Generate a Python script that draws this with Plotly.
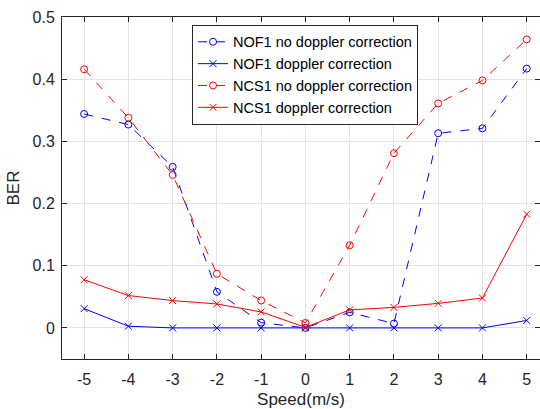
import plotly.graph_objects as go

speed = [-5, -4, -3, -2, -1, 0, 1, 2, 3, 4, 5]
nof1_no_corr = [0.344, 0.327, 0.259, 0.058, 0.0085, 0.0, 0.025, 0.007, 0.313, 0.321, 0.417]
nof1_corr = [0.031, 0.0027, 0.0, 0.0, 0.0, 0.0, 0.0, 0.0, 0.0, 0.0, 0.012]
ncs1_no_corr = [0.416, 0.338, 0.246, 0.087, 0.044, 0.008, 0.133, 0.281, 0.361, 0.398, 0.464]
ncs1_corr = [0.0775, 0.052, 0.044, 0.0385, 0.0257, 0.001, 0.029, 0.033, 0.0395, 0.048, 0.183]

x_ticks = [-5, -4, -3, -2, -1, 0, 1, 2, 3, 4, 5]
x_tick_labels = ["-5", "-4", "-3", "-2", "-1", "0", "1", "2", "3", "4", "5"]
y_ticks = [0, 0.1, 0.2, 0.3, 0.4, 0.5]
y_tick_labels = ["0", "0.1", "0.2", "0.3", "0.4", "0.5"]

BLUE = "#0000ff"
RED = "#ff0000"

fig = go.Figure()
series = [
    ("NOF1 no doppler correction", nof1_no_corr, BLUE, "dash", "circle-open"),
    ("NOF1 doppler correction", nof1_corr, BLUE, "solid", "x-thin-open"),
    ("NCS1 no doppler correction", ncs1_no_corr, RED, "dash", "circle-open"),
    ("NCS1 doppler correction", ncs1_corr, RED, "solid", "x-thin-open"),
]
for name, vals, col, dash, sym in series:
    fig.add_trace(go.Scatter(
        x=speed, y=vals, name=name, mode="lines+markers",
        line=dict(color=col, width=1, dash=dash),
        marker=dict(symbol=sym, size=7, color=col, line=dict(color=col, width=1)),
    ))

axis_common = dict(
    showgrid=True, gridcolor="#e3e3e3", gridwidth=1,
    showline=True, linecolor="#262626", linewidth=1, mirror="ticks",
    ticks="inside", ticklen=5, tickcolor="#262626",
    zeroline=False,
    tickfont=dict(family="Liberation Sans, Arial, sans-serif", size=16, color="#262626"),
)

fig.update_layout(
    width=540, height=409,
    margin=dict(l=62, r=0, t=17, b=50),
    paper_bgcolor="white", plot_bgcolor="white",
    font=dict(family="Liberation Sans, Arial, sans-serif", color="#262626"),
    xaxis=dict(
        range=[-5.5, 5.3], tickvals=x_ticks, ticktext=x_tick_labels,
        ticklabelstandoff=6,
        title=dict(text="Speed(m/s)", font=dict(size=17), standoff=8),
        **axis_common,
    ),
    yaxis=dict(
        range=[-0.05, 0.5], tickvals=y_ticks, ticktext=y_tick_labels,
        ticklabelstandoff=3,
        title=dict(text="BER", font=dict(size=17), standoff=8),
        **axis_common,
    ),
    legend=dict(
        x=0.272, y=0.977, xanchor="left", yanchor="top",
        bgcolor="white", bordercolor="#262626", borderwidth=1,
        font=dict(size=14.5, color="#000000"),
        tracegroupgap=0, itemwidth=30,
    ),
    showlegend=True,
)

fig.write_html("out.html")
